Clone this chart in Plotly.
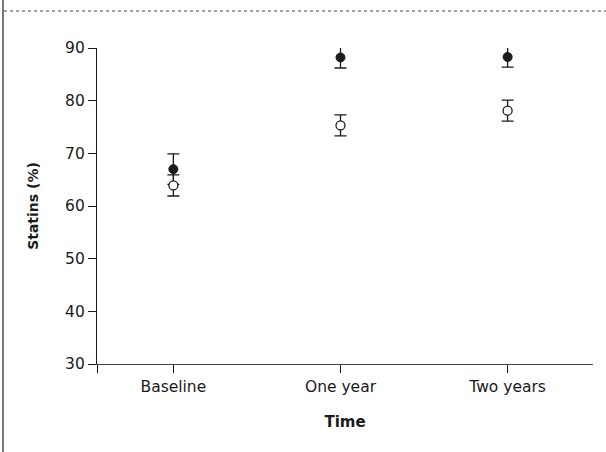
import plotly.graph_objects as go

categories = ["Baseline", "One year", "Two years"]
x_pos = [0, 1, 2]
filled_values = [67.0, 88.2, 88.3]
filled_err = [2.9, 2.0, 1.95]
open_values = [63.9, 75.3, 78.1]
open_err = [2.0, 2.0, 2.0]
y_ticks = [30, 40, 50, 60, 70, 80, 90]

FONT = "DejaVu Sans"
INK = "#1a1a1a"

fig = go.Figure()

fig.add_trace(go.Scatter(
    x=x_pos, y=filled_values, mode="markers",
    marker=dict(symbol="circle", size=9, color=INK, line=dict(color=INK, width=1)),
    error_y=dict(type="data", array=filled_err, visible=True, color=INK, thickness=1.3, width=6),
    showlegend=False, cliponaxis=False,
))
fig.add_trace(go.Scatter(
    x=x_pos, y=open_values, mode="markers",
    marker=dict(symbol="circle", size=9, color="white", line=dict(color=INK, width=1.3)),
    error_y=dict(type="data", array=open_err, visible=True, color=INK, thickness=1.3, width=6),
    showlegend=False, cliponaxis=False,
))

left_edge = -0.457
fig.update_xaxes(
    range=[left_edge, 2.511],
    tickmode="array",
    tickvals=[left_edge] + x_pos,
    ticktext=[""] + categories,
    ticks="outside", ticklen=8, tickcolor=INK, tickwidth=1,
    showline=True, linecolor="#444", linewidth=1.2,
    showgrid=False, zeroline=False,
    tickfont=dict(family=FONT, size=15.5, color=INK),
    title=dict(text="<b>Time</b>", font=dict(family=FONT, size=15, color=INK), standoff=21),
)
fig.update_yaxes(
    range=[30, 90],
    tickmode="array", tickvals=y_ticks,
    ticks="outside", ticklen=8, tickcolor=INK, tickwidth=1,
    showline=True, linecolor=INK, linewidth=1.2,
    showgrid=False, zeroline=False,
    tickfont=dict(family=FONT, size=15.5, color=INK),
    title=dict(text="<b>Statins (%)</b>", font=dict(family=FONT, size=14, color=INK), standoff=23),
)

fig.update_layout(
    width=606, height=452,
    margin=dict(l=97, r=13, t=48, b=88),
    paper_bgcolor="white", plot_bgcolor="white",
)
# page frame: grey left rule and dotted top rule (paper coords relative to plot area)
fig.add_shape(type="line", xref="paper", yref="paper",
              x0=-94 / 496, x1=-94 / 496, y0=-88 / 316, y1=1 + 48 / 316,
              line=dict(color="#777", width=2))
fig.add_shape(type="line", xref="paper", yref="paper",
              x0=-93 / 496, x1=1 + 13 / 496, y0=1 + 37 / 316, y1=1 + 37 / 316,
              line=dict(color="#444", width=1, dash="dot"))

fig.write_html("out.html")
